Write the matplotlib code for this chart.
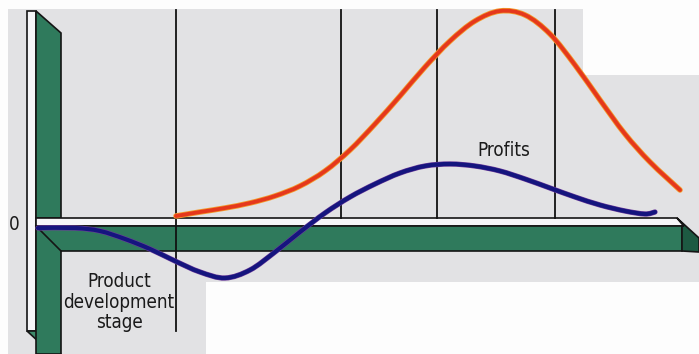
import matplotlib
matplotlib.use("Agg")
import matplotlib.pyplot as plt
import numpy as np
from matplotlib.path import Path
from matplotlib.patches import PathPatch, Polygon
from matplotlib import font_manager

# Product life cycle: time runs left to right, value 0 sits on the horizontal bar.
sales_time = [176, 200, 225, 250, 275, 300, 325, 350, 375, 400, 425, 450, 475,
              500, 525, 550, 575, 600, 625, 650, 680]
sales_value = [2, 6, 10, 15, 22, 32, 47, 68, 94, 122, 151, 177, 197,
               207, 203, 184, 153, 118, 84, 56, 28]

profit_time = [38, 75, 100, 125, 150, 175, 200, 225, 250, 275, 300, 325, 350,
               375, 400, 425, 450, 475, 500, 525, 550, 575, 600, 625, 645, 655]
profit_value = [-10, -10, -13, -21, -31, -43, -54, -60, -52, -34, -14, 5, 21,
                34, 45, 52, 54, 52, 47, 39, 30, 21, 13, 7, 4, 6]

stage_bounds = [176, 341, 437, 555]
profit_label = "Profits"
zero_label = "0"
stage_label = "Product\ndevelopment\nstage"

W, H = 699, 354
ZERO = 218  # pixel row of the zero line

fig = plt.figure(figsize=(W / 100, H / 100), dpi=100)
ax = fig.add_axes([0, 0, 1, 1])
ax.set_xlim(0, W)
ax.set_ylim(ZERO - H, ZERO)
ax.axis("off")
fig.patch.set_facecolor("#fdfdfd")


def v(row):
    """Convert a pixel row to the value axis."""
    return ZERO - row


def smooth_path(xs, ys):
    """Catmull-Rom curve through the points, built from cubic Bezier segments."""
    pts = np.column_stack([xs, ys]).astype(float)
    verts = [pts[0]]
    codes = [Path.MOVETO]
    n = len(pts)
    for i in range(n - 1):
        p0 = pts[i - 1] if i > 0 else pts[i]
        p1 = pts[i]
        p2 = pts[i + 1]
        p3 = pts[i + 2] if i + 2 < n else pts[i + 1]
        c1 = p1 + (p2 - p0) / 6.0
        c2 = p2 - (p3 - p1) / 6.0
        verts += [c1, c2, p2]
        codes += [Path.CURVE4] * 3
    return Path(verts, codes)


def poly(points, **kw):
    ax.add_patch(Polygon([(x, v(y)) for x, y in points], closed=True, **kw))


GRAY = "#e2e2e4"
GREEN = "#2f7a5c"
DARK_GREEN = "#1d5a42"
EDGE = "#151515"

# light panel behind the diagram
poly([(8, 9), (583, 9), (583, 75), (699, 75), (699, 282), (206, 282),
      (206, 354), (8, 354)], facecolor=GRAY, edgecolor="none", zorder=0)

# vertical 3D bar: white front strip and green side face
poly([(27, 11), (36, 11), (36, 331), (27, 331)], facecolor="#f6f6f8",
     edgecolor=EDGE, lw=1.2, zorder=2)
poly([(36, 11), (61, 33), (61, 218), (36, 218)], facecolor=GREEN,
     edgecolor=EDGE, lw=1.2, zorder=2)
poly([(27, 331), (36, 331), (61, 354), (52, 354)], facecolor="#3d8a6a",
     edgecolor=EDGE, lw=1.2, zorder=2)

# horizontal 3D bar: white top face, green front, dark end face
poly([(36, 218), (677, 218), (684, 226), (36, 226)], facecolor="#f6f6f8",
     edgecolor=EDGE, lw=1.2, zorder=2)
poly([(36, 226), (682, 226), (682, 251), (61, 251), (61, 354), (36, 354)],
     facecolor=GREEN, edgecolor=EDGE, lw=1.2, zorder=2)
poly([(677, 218), (699, 238), (699, 252), (682, 251), (682, 226), (684, 226)],
     facecolor=DARK_GREEN, edgecolor=EDGE, lw=1.2, zorder=2)
ax.plot([36, 61], [v(226), v(251)], color=EDGE, lw=1.2, zorder=3)

# stage boundaries
for i, x in enumerate(stage_bounds):
    bottom = 331 if i == 0 else 218
    ax.plot([x, x], [v(10), v(bottom)], color="#111111", lw=1.3, zorder=4)

# sales curve (orange rim under a red core)
sales_path = smooth_path(sales_time, sales_value)
ax.add_patch(PathPatch(sales_path, fill=False, edgecolor="#f39a2c", lw=4.0,
                       capstyle="round", zorder=5))
ax.add_patch(PathPatch(sales_path, fill=False, edgecolor="#e5381c", lw=2.8,
                       capstyle="round", zorder=6))

# profit curve
profit_path = smooth_path(profit_time, profit_value)
ax.add_patch(PathPatch(profit_path, fill=False, edgecolor="#6a3a9a", lw=3.8,
                       capstyle="round", zorder=5))
ax.add_patch(PathPatch(profit_path, fill=False, edgecolor="#15157e", lw=3.0,
                       capstyle="round", zorder=6))

font = font_manager.FontProperties(family="DejaVu Sans", stretch="condensed",
                                   size=13.5)
ax.text(504, v(150), profit_label, fontproperties=font, color="#1a1a1a",
        ha="center", va="center", zorder=7)
ax.text(14, v(225), zero_label, fontproperties=font, color="#1a1a1a",
        ha="center", va="center", zorder=7)
ax.text(119, v(302), stage_label, fontproperties=font, color="#1a1a1a",
        ha="center", va="center", linespacing=1.1, zorder=7)

fig.savefig("out.png", dpi=100, facecolor=fig.get_facecolor())
